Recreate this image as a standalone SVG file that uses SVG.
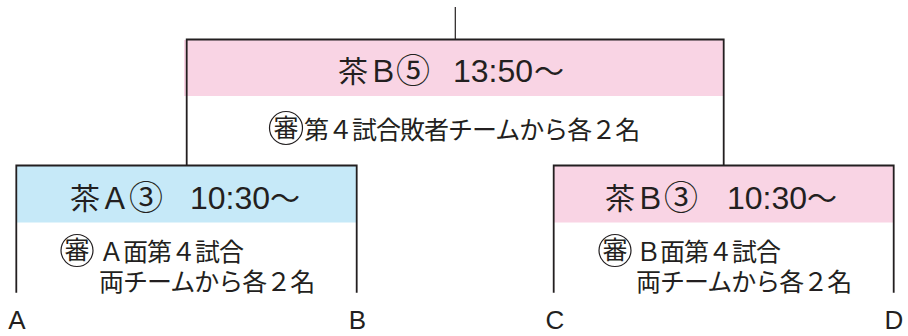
<svg xmlns="http://www.w3.org/2000/svg" width="908" height="336" viewBox="0 0 908 336">
  <style>
    .frame { fill: none; stroke: #231f20; stroke-width: 1.8; }
    .stem { fill: none; stroke: #231f20; stroke-width: 1.2; }
    .pink { fill: #f9d4e4; }
    .blue { fill: #c6e9f8; }
    .jp { font-family: "Noto Sans CJK JP", "Noto Sans", sans-serif; fill: #231f20; }
    .title { font-size: 30px; }
    .circ { font-size: 34px; }
    .num { font-family: "Liberation Sans", Arial, sans-serif; font-size: 32px; }
    .body { font-size: 25px; letter-spacing: -1px; }
    .ref { font-size: 25px; }
    .ring { fill: none; stroke: #231f20; stroke-width: 1.2; }
    .lbl { font-family: "Liberation Sans", Arial, sans-serif; font-size: 26px; fill: #231f20; text-anchor: middle; }
  </style>

  <g id="connectors">
    <line class="stem" x1="455.3" y1="7" x2="455.3" y2="39.5"/>
  </g>

  <g id="node-top">
    <rect class="pink" x="184" y="40" width="540" height="56"/>
    <path class="frame" d="M186.7,165.5 V39.5 H723.7 V165.5"/>
    <text class="jp title" x="338" y="82">茶Ｂ<tspan class="circ" x="396" dy="1">⑤</tspan><tspan class="num" x="453" dy="-1">13:50</tspan><tspan x="534">～</tspan></text>
    <circle class="ring" cx="286" cy="128" r="16.5"/>
    <text class="jp ref" x="286" y="136.5" text-anchor="middle">審</text>
    <text class="jp body" x="304" y="139">第４試合敗者チームから各２名</text>
  </g>

  <g id="node-left">
    <rect class="blue" x="16.3" y="165.5" width="340.4" height="57"/>
    <path class="frame" d="M16.3,292.7 V165.5 H356.7 V292.7"/>
    <text class="jp title" x="70" y="209">茶Ａ<tspan class="circ" x="129" dy="1">③</tspan><tspan class="num" x="190" dy="-1">10:30</tspan><tspan x="270">～</tspan></text>
    <circle class="ring" cx="77" cy="250.5" r="16"/>
    <text class="jp ref" x="77" y="259" text-anchor="middle">審</text>
    <text class="jp body" x="99" y="261">Ａ面第４試合<tspan x="99" y="291">両チームから各２名</tspan></text>
  </g>

  <g id="node-right">
    <rect class="pink" x="553.7" y="165.5" width="340" height="57"/>
    <path class="frame" d="M553.7,292.7 V165.5 H893.7 V292.7"/>
    <text class="jp title" x="605" y="209">茶Ｂ<tspan class="circ" x="664" dy="1">③</tspan><tspan class="num" x="727" dy="-1">10:30</tspan><tspan x="807">～</tspan></text>
    <circle class="ring" cx="615" cy="250.5" r="16"/>
    <text class="jp ref" x="615" y="259" text-anchor="middle">審</text>
    <text class="jp body" x="636" y="261">Ｂ面第４試合<tspan x="636" y="291">両チームから各２名</tspan></text>
  </g>

  <g id="labels">
    <text class="lbl" x="17" y="329">A</text>
    <text class="lbl" x="357.5" y="329">B</text>
    <text class="lbl" x="555" y="329">C</text>
    <text class="lbl" x="894" y="329">D</text>
  </g>
</svg>
